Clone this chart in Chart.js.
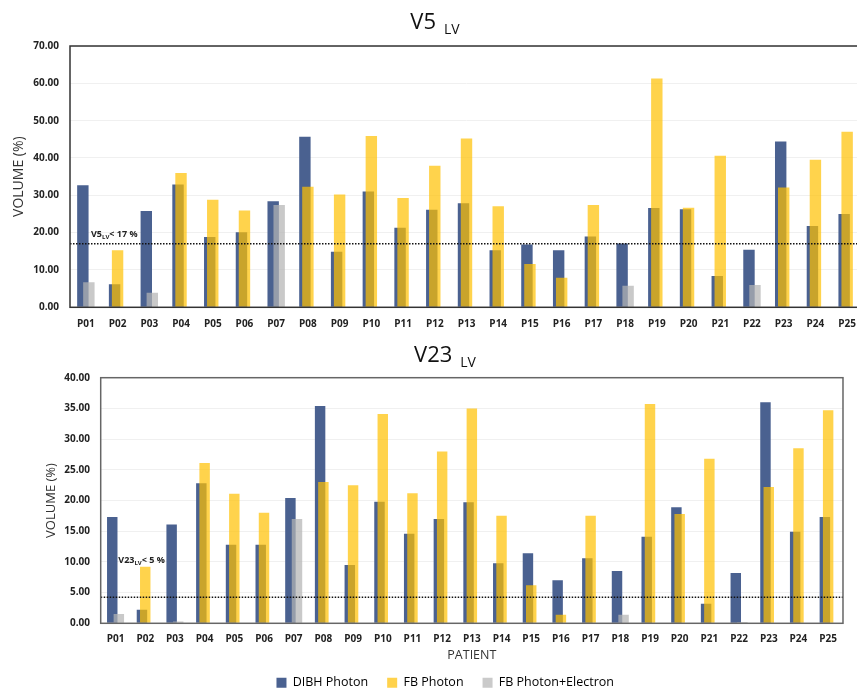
<!DOCTYPE html>
<html>
<head>
<meta charset="utf-8">
<script src="https://cdn.jsdelivr.net/npm/chart.js@4.4.1/dist/chart.umd.min.js"></script>
<style>
  html, body { margin: 0; padding: 0; background: #fff; overflow: hidden; width: 857px; height: 691px; }
  canvas { position: absolute; left: 0; }
  #v5Chart { top: 0; }
  #v23Chart { top: 335px; }
</style>
</head>
<body>
<canvas id="v5Chart" width="870" height="340" style="width:870px;height:340px"></canvas>
<canvas id="v23Chart" width="847" height="364" style="width:847px;height:364px"></canvas>
<script>
(() => {
  'use strict';

  const patients = ['P01','P02','P03','P04','P05','P06','P07','P08','P09','P10','P11','P12','P13',
    'P14','P15','P16','P17','P18','P19','P20','P21','P22','P23','P24','P25'];

  // V5 LV (%)
  const v5Dibh = [32.7, 6.2, 25.8, 32.9, 18.8, 20.1, 28.4, 45.7, 14.9, 31.0, 21.3, 26.1, 27.9,
    15.3, 16.8, 15.3, 19.0, 17.1, 26.6, 26.3, 8.4, 15.4, 44.4, 21.8, 25.0];
  const v5Fb = [null, 15.3, null, 36.0, 28.8, 25.9, null, 32.3, 30.2, 45.9, 29.3, 37.9, 45.2,
    27.1, 11.6, 7.9, 27.4, null, 61.3, 26.7, 40.6, null, 32.1, 39.5, 47.0];
  const v5FbElectron = [6.7, null, 3.9, null, null, null, 27.4, null, null, null, null, null, null,
    null, null, null, null, 5.8, null, null, null, 6.0, null, null, null];
  const v5Ticks = [0, 10, 20, 30, 40, 50, 60, 70];
  const v5Limit = 17;       // dotted line
  const v5LimitText = '17';

  // V23 LV (%)
  const v23Dibh = [17.3, 2.2, 16.1, 22.8, 12.8, 12.8, 20.4, 35.4, 9.5, 19.8, 14.6, 17.0, 19.7,
    9.8, 11.4, 7.0, 10.6, 8.5, 14.1, 18.9, 3.2, 8.2, 36.0, 14.9, 17.3];
  const v23Fb = [null, 9.2, null, 26.1, 21.1, 18.0, null, 23.0, 22.5, 34.1, 21.2, 28.0, 35.0,
    17.5, 6.2, 1.4, 17.5, null, 35.7, 17.8, 26.8, null, 22.2, 28.5, 34.7];
  const v23FbElectron = [1.5, null, 0.3, null, null, null, 17.0, null, null, null, null, null, null,
    null, null, null, null, 1.4, null, null, null, 0.2, null, null, null];
  const v23Ticks = [0, 5, 10, 15, 20, 25, 30, 35, 40];
  const v23Limit = 4.25;    // dotted line as drawn
  const v23LimitText = '5';

  const seriesNames = ['DIBH Photon', 'FB Photon', 'FB Photon+Electron'];

  const FONT = '"Open Sans", "DejaVu Sans", sans-serif';
  const COLORS = ['#4A6190', 'rgba(255,192,0,0.7)', 'rgba(180,180,180,0.72)'];
  const LEGEND_COLORS = ['#4A6190', '#FFD24C', '#CACACA'];

  // draws datasets in index order (later ones on top), then threshold, frame, title
  const panelPlugin = {
    id: 'panel',
    beforeDatasetsDraw(chart) {
      const { ctx, chartArea: a } = chart;
      ctx.save();
      ctx.beginPath();
      ctx.rect(a.left, a.top, a.right - a.left, a.bottom - a.top);
      ctx.clip();
      chart.getSortedVisibleDatasetMetas().forEach(m => m.controller.draw());
      ctx.restore();
      return false;
    },
    afterDraw(chart, args, o) {
      const { ctx, chartArea: a } = chart;
      const ly = chart.scales.y.getPixelForValue(o.limit);
      ctx.save();
      ctx.strokeStyle = '#111';
      ctx.lineWidth = 1.5;
      ctx.setLineDash([1.5, 1.5]);
      ctx.beginPath();
      ctx.moveTo(a.left, ly);
      ctx.lineTo(a.right, ly);
      ctx.stroke();
      ctx.setLineDash([]);

      ctx.strokeStyle = o.frameColor;
      ctx.lineWidth = 1.5;
      ctx.strokeRect(a.left, a.top, a.right - a.left, a.bottom - a.top);

      // threshold label with subscript
      let x = a.left + o.labelDx;
      const by = ly - o.labelDy;
      ctx.fillStyle = '#222';
      ctx.textBaseline = 'alphabetic';
      ctx.textAlign = 'left';
      ctx.font = 'bold 9px ' + FONT;
      ctx.fillText(o.labelMain, x, by);
      x += ctx.measureText(o.labelMain).width;
      ctx.font = 'bold 6px ' + FONT;
      ctx.fillText('LV', x, by + 2);
      x += ctx.measureText('LV').width;
      ctx.font = 'bold 9px ' + FONT;
      ctx.fillText('< ' + o.limitText + ' %', x, by);

      // title with subscript
      ctx.fillStyle = '#111';
      ctx.font = '22px ' + FONT;
      const wMain = ctx.measureText(o.title).width;
      ctx.font = '14px ' + FONT;
      const wSub = ctx.measureText('LV').width;
      const tx = o.titleX - (wMain + 8 + wSub) / 2;
      ctx.font = '22px ' + FONT;
      ctx.fillText(o.title, tx, o.titleY);
      ctx.font = '14px ' + FONT;
      ctx.fillText('LV', tx + wMain + 8, o.titleY + 5);
      ctx.restore();
    }
  };

  function makeDatasets(dibh, fb, fbEl, catPct, barPct) {
    return [dibh, fb, fbEl].map((d, i) => ({
      label: seriesNames[i],
      data: d,
      backgroundColor: COLORS[i],
      borderWidth: 0,
      categoryPercentage: catPct,
      barPercentage: barPct
    }));
  }

  function buildChart(id, cfg) {
    return new Chart(document.getElementById(id), {
      type: 'bar',
      data: {
        labels: patients,
        datasets: makeDatasets(cfg.dibh, cfg.fb, cfg.fbEl, cfg.catPct, cfg.barPct)
      },
      options: {
        responsive: false,
        animation: false,
        layout: { padding: cfg.padding },
        scales: {
          x: {
            grid: { display: false, drawTicks: false },
            border: { display: false },
            ticks: {
              autoSkip: false, maxRotation: 0, padding: cfg.xTickPad, color: '#222',
              font: { family: FONT, size: 10, weight: 'bold' }
            },
            title: cfg.xTitle,
            afterFit: s => { s.height = cfg.xHeight; }
          },
          y: {
            min: cfg.ticks[0],
            max: cfg.ticks[cfg.ticks.length - 1],
            afterBuildTicks: s => { s.ticks = cfg.ticks.map(v => ({ value: v })); },
            grid: { color: '#F0F0F0', drawTicks: false },
            border: { display: false },
            ticks: {
              padding: cfg.yTickPad, color: '#222',
              font: { family: FONT, size: 10, weight: 'bold' },
              callback: v => Number(v).toFixed(2)
            },
            title: {
              display: true, text: 'VOLUME (%)', color: '#333',
              font: { family: FONT, size: cfg.yTitleSize },
              padding: { top: cfg.yTitlePad, bottom: 0 }
            },
            afterFit: s => { s.width = cfg.yWidth; }
          }
        },
        plugins: {
          legend: cfg.legend,
          tooltip: { enabled: false },
          panel: cfg.panel
        }
      },
      plugins: [panelPlugin]
    });
  }

  buildChart('v5Chart', {
    dibh: v5Dibh, fb: v5Fb, fbEl: v5FbElectron, ticks: v5Ticks,
    catPct: 0.284, barPct: 3.8,
    padding: { top: 46, right: 7, bottom: 0, left: 0 },
    xHeight: 32.7, xTickPad: 11, yWidth: 70, yTickPad: 11,
    yTitleSize: 14, yTitlePad: 10.5,
    xTitle: { display: false },
    legend: { display: false },
    panel: {
      title: 'V5', titleX: 435, titleY: 28.5, limit: v5Limit, limitText: v5LimitText,
      labelMain: 'V5', labelDx: 21, labelDy: 6.5, frameColor: '#333'
    }
  });

  buildChart('v23Chart', {
    dibh: v23Dibh, fb: v23Fb, fbEl: v23FbElectron, ticks: v23Ticks,
    catPct: 0.332, barPct: 3.18,
    padding: { top: 42.7, right: 0, bottom: 0, left: 43.4 },
    xHeight: 34.2, xTickPad: 10, yWidth: 57.3, yTickPad: 10.7,
    yTitleSize: 13, yTitlePad: 0.1,
    xTitle: {
      display: true, text: 'PATIENT', color: '#333',
      font: { family: FONT, size: 12.5 },
      padding: { top: 0, bottom: -5 }
    },
    legend: {
      position: 'bottom',
      labels: {
        boxWidth: 10, boxHeight: 10, padding: 19, color: '#333',
        font: { family: FONT, size: 12.5 },
        generateLabels: chart => chart.data.datasets.map((d, i) => ({
          text: d.label, fillStyle: LEGEND_COLORS[i], strokeStyle: LEGEND_COLORS[i],
          lineWidth: 0, datasetIndex: i, hidden: false
        }))
      }
    },
    panel: {
      title: 'V23', titleX: 445, titleY: 26.7, limit: v23Limit, limitText: v23LimitText,
      labelMain: 'V23', labelDx: 17.6, labelDy: 34, frameColor: '#666'
    }
  });
})();
</script>
</body>
</html>
